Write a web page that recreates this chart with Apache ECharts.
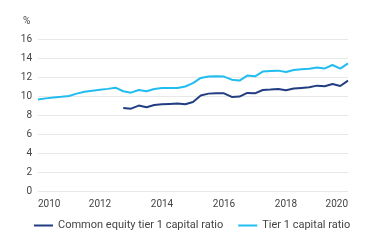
<!DOCTYPE html>
<html>
<head>
<meta charset="utf-8">
<style>html,body{margin:0;padding:0;background:#fff;}#c{width:375px;height:247px;}</style>
<script src="https://cdn.jsdelivr.net/npm/echarts@6/dist/echarts.min.js"></script>
</head>
<body>
<div id="c"></div>
<script>
var startYear = 2010;
var step = 0.25;
var tier1 = [9.62, 9.75, 9.85, 9.92, 10.0, 10.25, 10.45, 10.55, 10.65, 10.75, 10.88, 10.5, 10.35, 10.63, 10.5, 10.74, 10.84, 10.84, 10.84, 11.0, 11.35, 11.9, 12.05, 12.07, 12.04, 11.72, 11.62, 12.15, 12.07, 12.57, 12.62, 12.67, 12.53, 12.74, 12.82, 12.88, 13.0, 12.9, 13.26, 12.88, 13.44];
var cet1Start = 11;
var cet1 = [8.74, 8.67, 8.99, 8.81, 9.05, 9.12, 9.16, 9.2, 9.13, 9.37, 10.05, 10.25, 10.28, 10.28, 9.9, 9.94, 10.32, 10.28, 10.63, 10.68, 10.74, 10.6, 10.78, 10.85, 10.92, 11.09, 11.02, 11.26, 11.05, 11.62];
var seriesNames = ['Common equity tier 1 capital ratio', 'Tier 1 capital ratio'];
var yTicks = [0, 2, 4, 6, 8, 10, 12, 14, 16];
var xTicks = [2010, 2012, 2014, 2016, 2018, 2020];

var tier1Data = tier1.map(function (v, i) { return [startYear + i * step, v]; });
var cet1Data = cet1.map(function (v, i) { return [startYear + (cet1Start + i) * step, v]; });

var chart = echarts.init(document.getElementById('c'), null, {renderer: 'canvas'});
var font = 'Roboto, "Noto Sans", sans-serif';
chart.setOption({
  animation: false,
  grid: {left: 38, right: 27, top: 39, bottom: 56, containLabel: false},
  graphic: [{type: 'text', left: 23, top: 16, style: {text: '%', font: '10px ' + font, fill: '#444'}}],
  legend: {
    left: 34, top: 220, padding: 0, itemWidth: 19, itemHeight: 2, itemGap: 15,
    icon: 'rect',
    textStyle: {fontFamily: font, fontSize: 11, color: '#444'},
    data: seriesNames
  },
  xAxis: {
    type: 'value', min: xTicks[0], max: xTicks[xTicks.length - 1], interval: 2,
    axisLine: {show: false}, axisTick: {show: false}, splitLine: {show: false},
    axisLabel: {fontFamily: font, fontSize: 10, color: '#444', margin: 8, alignMinLabel: 'left', alignMaxLabel: 'right',
      formatter: function (v) { return String(v); }}
  },
  yAxis: {
    type: 'value', min: yTicks[0], max: yTicks[yTicks.length - 1], interval: 2,
    axisLine: {show: false}, axisTick: {show: false},
    splitLine: {lineStyle: {color: '#e8e8e8', width: 1}},
    axisLabel: {fontFamily: font, fontSize: 10, color: '#444', margin: 6}
  },
  series: [
    {name: seriesNames[0], type: 'line', data: cet1Data, showSymbol: false, symbol: 'none',
     lineStyle: {color: '#223d82', width: 2}, itemStyle: {color: '#223d82'}},
    {name: seriesNames[1], type: 'line', data: tier1Data, showSymbol: false, symbol: 'none',
     lineStyle: {color: '#22bdf0', width: 2}, itemStyle: {color: '#22bdf0'}}
  ]
});
</script>
</body>
</html>
